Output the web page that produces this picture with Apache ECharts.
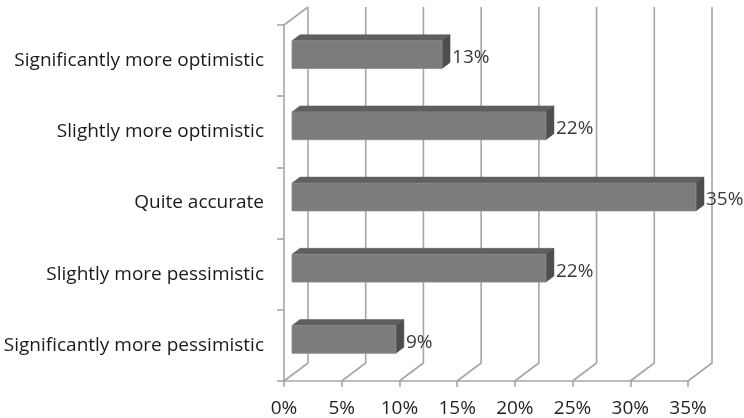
<!DOCTYPE html>
<html>
<head>
<meta charset="utf-8">
<script src="https://cdn.jsdelivr.net/npm/echarts@6/dist/echarts.min.js"></script>
<style>
html,body{margin:0;padding:0;background:#fff;}
#chart{width:744px;height:418px;}
</style>
</head>
<body>
<div id="chart"></div>
<script>
var categories = [
  'Significantly more optimistic',
  'Slightly more optimistic',
  'Quite accurate',
  'Slightly more pessimistic',
  'Significantly more pessimistic'
];
var values = [13, 22, 35, 22, 9];
var xTicks = [0, 5, 10, 15, 20, 25, 30, 35];

var DX = 24, DY = -18;
var FONT = 'Open Sans';
var FS = 19;
var GRID_COLOR = '#a6a6a6';

var chart = echarts.init(document.getElementById('chart'), null, {renderer: 'canvas'});

function wallItem(params, api) {
  var v = api.value(0);
  var cs = params.coordSys;
  var x = api.coord([v, 0])[0];
  var bottom = cs.y + cs.height;
  var top = cs.y;
  var children = [{
    type: 'polyline',
    shape: {points: [[x, bottom], [x + DX, bottom + DY], [x + DX, top + DY]]},
    style: {stroke: GRID_COLOR, lineWidth: 1.6, fill: null}
  }];
  if (v === 0) {
    children.push({
      type: 'line',
      shape: {x1: x, y1: top, x2: x + DX, y2: top + DY},
      style: {stroke: GRID_COLOR, lineWidth: 1.6}
    });
  }
  return {type: 'group', children: children};
}

function barItem(params, api) {
  var v = api.value(0);
  var idx = api.value(1);
  var p0 = api.coord([0, idx]);
  var p1 = api.coord([v, idx]);
  var band = api.size([0, 1])[1];
  var h = band * 0.39;
  var ox = DX / 3, oy = DY / 3;
  var dx = DX / 3, dy = DY / 3;
  var x0 = p0[0] + ox, x1 = p1[0] + ox;
  var yc = p0[1] + oy;
  var yt = yc - h / 2, yb = yc + h / 2;
  return {
    type: 'group',
    children: [
      {
        type: 'polygon',
        shape: {points: [[x0, yt], [x1, yt], [x1 + dx, yt + dy], [x0 + dx, yt + dy]]},
        style: {fill: '#5f5f5f', stroke: '#5a5a5a', lineWidth: 0.5}
      },
      {
        type: 'polygon',
        shape: {points: [[x1, yt], [x1 + dx, yt + dy], [x1 + dx, yb + dy], [x1, yb]]},
        style: {fill: '#4e4e4e', stroke: '#4a4a4a', lineWidth: 0.5}
      },
      {
        type: 'rect',
        shape: {x: x0, y: yt, width: x1 - x0, height: h},
        style: {fill: '#7c7c7c', stroke: '#8a8a8a', lineWidth: 0.8}
      },
      {
        type: 'text',
        style: {
          x: x1 + dx + 2, y: yc + 3,
          text: v + '%',
          fill: '#3a3a3a',
          font: FS + 'px "' + FONT + '"',
          verticalAlign: 'middle', align: 'left'
        }
      }
    ]
  };
}

chart.setOption({
  animation: false,
  grid: {left: 284, right: 56, top: 25, bottom: 37, containLabel: false},
  xAxis: {
    type: 'value', min: 0, max: 35, interval: 5,
    axisLine: {show: true, lineStyle: {color: GRID_COLOR, width: 1.6}},
    axisTick: {show: true, length: 6, lineStyle: {color: GRID_COLOR, width: 1.6}},
    splitLine: {show: false},
    axisLabel: {
      formatter: function (v) { return v + '%'; },
      color: '#1f1f1f', fontSize: FS, fontFamily: FONT, margin: 18
    }
  },
  yAxis: {
    type: 'category', data: categories, inverse: true,
    axisLine: {show: true, lineStyle: {color: GRID_COLOR, width: 1.6}},
    axisTick: {show: true, length: 7, lineStyle: {color: GRID_COLOR, width: 1.6}},
    axisLabel: {color: '#1a1a1a', fontSize: FS, fontFamily: FONT, margin: 20, padding: [4, 0, 0, 0]}
  },
  series: [
    {
      type: 'custom', name: 'wall', renderItem: wallItem,
      data: xTicks.map(function (t) { return [t]; }),
      encode: {x: 0}, silent: true, z: 1
    },
    {
      type: 'custom', name: 'bars', renderItem: barItem,
      data: values.map(function (v, i) { return [v, i]; }),
      encode: {x: 0, y: 1}, z: 2
    }
  ]
});
</script>
</body>
</html>
